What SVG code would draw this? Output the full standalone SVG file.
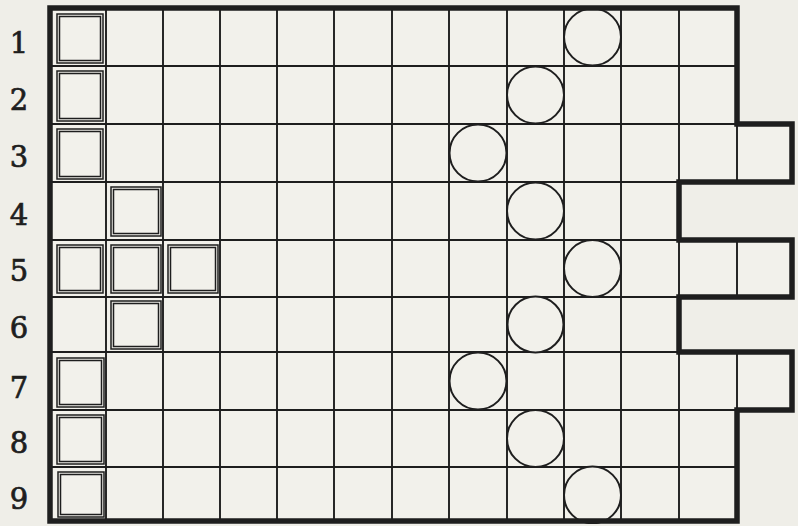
<svg xmlns="http://www.w3.org/2000/svg" width="798" height="526" viewBox="0 0 798 526">
<style>
.thin{stroke:#1e1e1e;stroke-width:1.9;fill:none}
.thick{stroke:#1e1e1e;stroke-width:5.5;fill:none;stroke-linejoin:miter}
.sq{stroke:#1e1e1e;stroke-width:1.5;fill:none}
.ring{stroke:#1e1e1e;stroke-width:2;fill:#f2f1eb}
.lbl{font-family:"DejaVu Serif","Liberation Serif",serif;font-size:29px;fill:#1e1e1e;stroke:#1e1e1e;stroke-width:0.7;text-anchor:middle}
</style>
<rect x="0" y="0" width="798" height="526" fill="#efeee8"/>
<polygon points="50,8 737,8 737,124 792,124 792,182 679,182 679,240 792,240 792,297 679,297 679,352 792,352 792,410 737,410 737,521 50,521" fill="#f2f1eb"/>
<g id="grid">
<path class="thin" d="M50,66H737 M50,124H792 M50,182H792 M50,240H792 M50,297H792 M50,352H792 M50,410H792 M50,467H737"/>
<path class="thin" d="M106,8V521 M163,8V521 M220,8V521 M277,8V521 M334,8V521 M392,8V521 M449,8V521 M507,8V521 M564,8V521 M621,8V521 M679,8V521 M737,124V182 M737,240V297 M737,352V410"/>
</g>
<g id="squares">
<g id="sq-r1"><rect class="sq" x="57" y="14" width="46" height="49"/><rect class="sq" x="59.5" y="16.5" width="41" height="44"/></g>
<g id="sq-r2"><rect class="sq" x="57" y="71" width="46" height="50"/><rect class="sq" x="59.5" y="73.5" width="41" height="45"/></g>
<g id="sq-r3"><rect class="sq" x="57" y="129" width="46" height="50"/><rect class="sq" x="59.5" y="131.5" width="41" height="45"/></g>
<g id="sq-r4"><rect class="sq" x="111" y="187" width="50" height="49"/><rect class="sq" x="113.5" y="189.5" width="45" height="44"/></g>
<g id="sq-r5a"><rect class="sq" x="57" y="245" width="46" height="48"/><rect class="sq" x="59.5" y="247.5" width="41" height="43"/></g>
<g id="sq-r5b"><rect class="sq" x="111" y="245" width="50" height="48"/><rect class="sq" x="113.5" y="247.5" width="45" height="43"/></g>
<g id="sq-r5c"><rect class="sq" x="168" y="245" width="50" height="48"/><rect class="sq" x="170.5" y="247.5" width="45" height="43"/></g>
<g id="sq-r6"><rect class="sq" x="111" y="301" width="50" height="48"/><rect class="sq" x="113.5" y="303.5" width="45" height="43"/></g>
<g id="sq-r7"><rect class="sq" x="57" y="358" width="47" height="49"/><rect class="sq" x="59.5" y="360.5" width="42" height="44"/></g>
<g id="sq-r8"><rect class="sq" x="57" y="415" width="47" height="49"/><rect class="sq" x="59.5" y="417.5" width="42" height="44"/></g>
<g id="sq-r9"><rect class="sq" x="58" y="472" width="46" height="45"/><rect class="sq" x="60.5" y="474.5" width="41" height="40"/></g>
</g>
<g id="circles">
<circle id="c-r1" class="ring" cx="592.5" cy="37" r="28.5"/>
<circle id="c-r2" class="ring" cx="535.5" cy="95" r="28.5"/>
<circle id="c-r3" class="ring" cx="478" cy="153" r="28.5"/>
<circle id="c-r4" class="ring" cx="535.5" cy="211" r="28.5"/>
<circle id="c-r5" class="ring" cx="592.5" cy="268.5" r="28.5"/>
<circle id="c-r6" class="ring" cx="535.5" cy="324.5" r="28"/>
<circle id="c-r7" class="ring" cx="478" cy="381" r="28.5"/>
<circle id="c-r8" class="ring" cx="535.5" cy="438.5" r="28.5"/>
<circle id="c-r9" class="ring" cx="592.5" cy="495" r="28.5"/>
</g>
<polygon id="border" class="thick" points="50,8 737,8 737,124 792,124 792,182 679,182 679,240 792,240 792,297 679,297 679,352 792,352 792,410 737,410 737,521 50,521"/>
<rect x="40" y="524" width="760" height="2" fill="#efeee8"/>
<g id="labels">
<text class="lbl" x="19" y="53">1</text>
<text class="lbl" x="19" y="110">2</text>
<text class="lbl" x="19" y="167">3</text>
<text class="lbl" x="19" y="225">4</text>
<text class="lbl" x="19" y="281">5</text>
<text class="lbl" x="19" y="338">6</text>
<text class="lbl" x="19" y="398">7</text>
<text class="lbl" x="19" y="453">8</text>
<text class="lbl" x="19" y="509">9</text>
</g>
</svg>
